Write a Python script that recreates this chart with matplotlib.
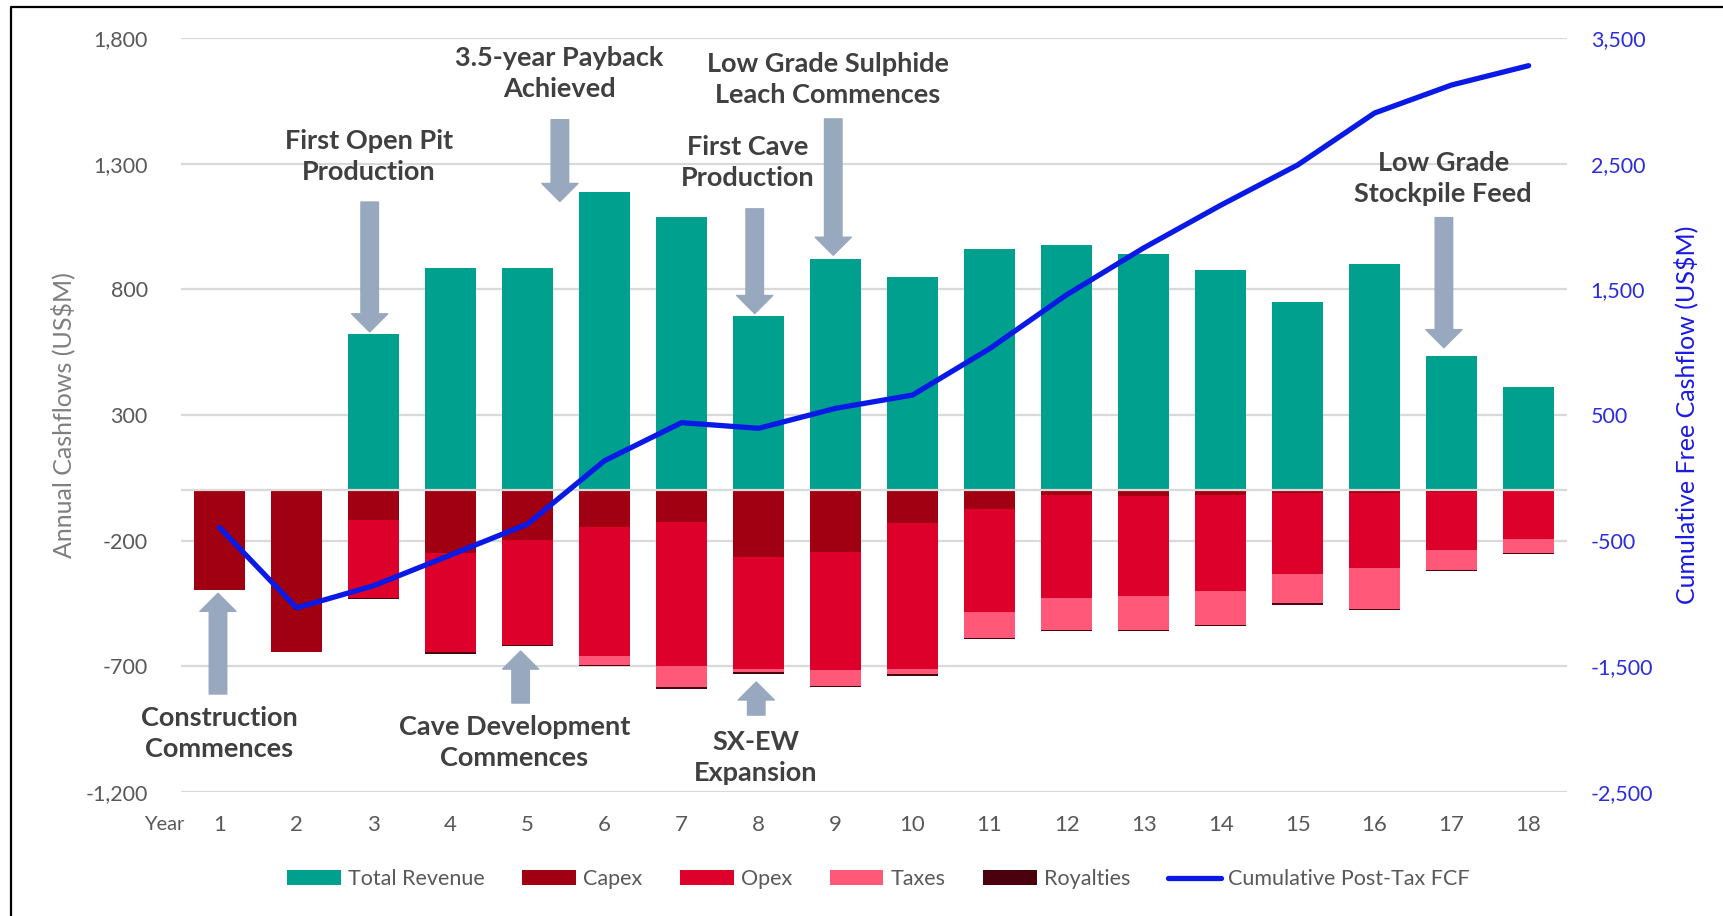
import numpy as np
import matplotlib
matplotlib.use('Agg')
import matplotlib.pyplot as plt
from matplotlib.ticker import FuncFormatter, FixedLocator
from matplotlib.lines import Line2D

plt.rcParams['font.family'] = ['Lato', 'DejaVu Sans']
plt.rcParams['axes.unicode_minus'] = False

# data (US$M)
years = list(range(1, 19))
revenue = [0, 0, 621, 886, 886, 1187, 1088, 695, 923, 850, 959, 976, 940, 879, 748, 903, 536, 413]
capex = [-397, -643, -120, -249, -199, -145, -126, -265, -245, -132, -74, -20, -24, -20, -10, -12, -8, -3]
opex = [0, 0, -307, -393, -417, -514, -573, -447, -471, -580, -409, -407, -397, -381, -325, -298, -229, -189]
taxes = [0, 0, 0, 0, 0, -36, -86, -13, -62, -21, -106, -129, -135, -135, -115, -161, -82, -57]
royalties = [0, 0, -5, -10, -4, -4, -5, -6, -6, -6, -4, -5, -5, -5, -5, -4, -4, -3]
cum_fcf = [-396, -1036, -860, -615, -368, 136, 439, 394, 553, 659, 1028, 1457, 1830, 2170, 2491, 2905, 3128, 3282]

left_ticks = [-1200, -700, -200, 300, 800, 1300, 1800]
right_ticks = [-2500, -1500, -500, 500, 1500, 2500, 3500]

# annotations: text, text x, arrow x, text y, arrow tail y, arrow tip y (left axis units)
notes = [
    ('First Open Pit\nProduction', 1.94, 1.95, 1328, 1148, 631),
    ('3.5-year Payback\nAchieved', 4.41, 4.42, 1660, 1476, 1150),
    ('First Cave\nProduction', 6.86, 6.95, 1307, 1121, 704),
    ('Low Grade Sulphide\nLeach Commences', 7.90, 7.97, 1636, 1479, 936),
    ('Low Grade\nStockpile Feed', 15.89, 15.90, 1241, 1086, 568),
    ('Construction\nCommences', 0.0, -0.02, -969, -811, -410),
    ('Cave Development\nCommences', 3.83, 3.91, -1006, -847, -640),
    ('SX-EW\nExpansion', 6.96, 6.97, -1062, -895, -763),
]

c_rev = '#00A08E'
c_capex = '#A00012'
c_opex = '#DC002B'
c_tax = '#FF5878'
c_roy = '#4B000D'
c_line = '#0A1AE6'
c_arrow = '#98A8BE'
c_grid = '#D9D9D9'
c_text = '#595959'

fig = plt.figure(figsize=(17.24, 9.16), dpi=100)
ax = fig.add_axes([0.105, 0.1357, 0.804, 0.8225])
ax2 = ax.twinx()

x = np.arange(len(years))
w = 0.66
b_rev = ax.bar(x, revenue, w, color=c_rev, zorder=2, label='Total Revenue')
base = np.zeros(len(years))
b_cap = ax.bar(x, capex, w, bottom=base, color=c_capex, zorder=2, label='Capex')
base = base + np.array(capex)
b_opx = ax.bar(x, opex, w, bottom=base, color=c_opex, zorder=2, label='Opex')
base = base + np.array(opex)
b_tax = ax.bar(x, taxes, w, bottom=base, color=c_tax, zorder=2, label='Taxes')
base = base + np.array(taxes)
b_roy = ax.bar(x, royalties, w, bottom=base, color=c_roy, zorder=2, label='Royalties')

ax.axhline(0, color=c_grid, lw=1.6, zorder=3)

ln, = ax2.plot(x, cum_fcf, color=c_line, lw=3.8, solid_capstyle='round',
               solid_joinstyle='round', label='Cumulative Post-Tax FCF')

ax.set_xlim(-0.5, len(years) - 0.5)
ax.set_ylim(-1200, 1800)
ax2.set_ylim(-2500, 3500)
ax.yaxis.set_major_locator(FixedLocator(left_ticks))
ax2.yaxis.set_major_locator(FixedLocator(right_ticks))
fmt = FuncFormatter(lambda v, p: '{:,.0f}'.format(v))
ax.yaxis.set_major_formatter(fmt)
ax2.yaxis.set_major_formatter(fmt)
ax.grid(axis='y', color=c_grid, lw=1.6, zorder=0)
ax.set_axisbelow(True)

ax.set_xticks(x)
ax.set_xticklabels([str(y) for y in years])
ax.tick_params(axis='x', length=0, pad=17, labelsize=16, labelcolor=c_text)
ax.tick_params(axis='y', length=0, pad=24, labelsize=15.5, labelcolor=c_text)
ax2.tick_params(axis='y', length=0, pad=17, labelsize=15.5, labelcolor='#2B2BE0')
for a in (ax, ax2):
    for s in a.spines.values():
        s.set_visible(False)

ax.text(-0.0118, -0.043, 'Year', transform=ax.transAxes, ha='center', va='center',
        fontsize=14.5, color=c_text)

ax.set_ylabel('Annual Cashflows (US$M)', fontsize=18, color='#7F7F7F')
ax.yaxis.set_label_coords(-0.085, 0.5)
ax.yaxis.label.set_va('center')
ax2.set_ylabel('Cumulative Free Cashflow (US$M)', fontsize=18, color='#1A1AE6')
ax2.yaxis.set_label_coords(1.0856, 0.5)
ax2.yaxis.label.set_va('center')

for txt, tx, axx, ty, tail, tip in notes:
    ax.text(tx, ty, txt, ha='center', va='center', fontsize=19.5, fontweight='bold',
            color='#404040', linespacing=1.35, zorder=5)
    ax.annotate('', xy=(axx, tip), xytext=(axx, tail),
                arrowprops=dict(arrowstyle='simple,head_length=13,head_width=26,tail_width=12.6',
                                color=c_arrow, shrinkA=0, shrinkB=0, mutation_scale=1),
                zorder=4)

handles = [b_rev, b_cap, b_opx, b_tax, b_roy, ln]
labels = ['Total Revenue', 'Capex', 'Opex', 'Taxes', 'Royalties', 'Cumulative Post-Tax FCF']
leg = fig.legend(handles, labels, loc='center', bbox_to_anchor=(0.5096, 0.0404), ncol=6,
                 frameon=False, fontsize=15.5, handlelength=2.5, handleheight=0.67,
                 handletextpad=0.32, columnspacing=1.75, labelcolor=c_text)

# outer frame (left and top edges visible in the reference)
fig.add_artist(Line2D([10.7 / 1724, 10.7 / 1724, 1.0], [0.0, 1 - 7.3 / 916, 1 - 7.3 / 916],
                      transform=fig.transFigure, color='black', lw=1.6))

fig.savefig('out.png', dpi=100)
